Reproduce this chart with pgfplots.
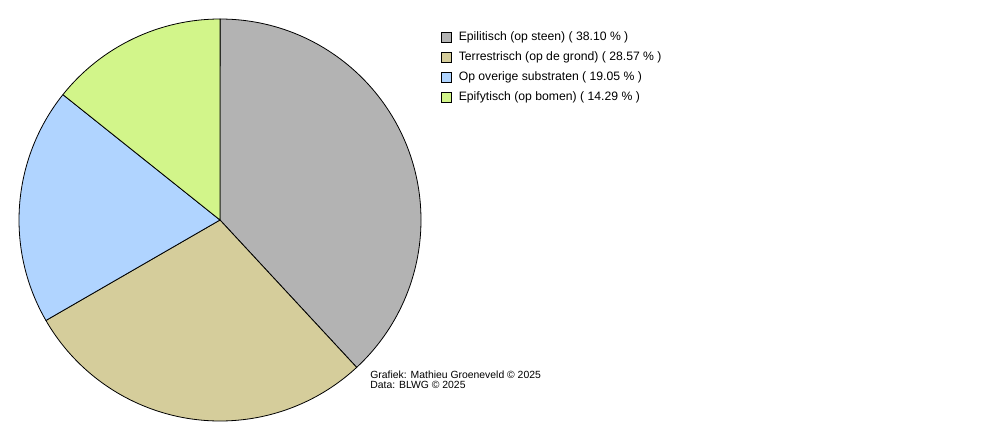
\documentclass[border=0pt]{standalone}
\usepackage{pgfplots}
\usepackage{pgfplotstable}
\pgfplotsset{compat=1.18}
\usepackage{fontspec}
\setmainfont{Liberation Sans}
\definecolor{c0}{RGB}{179,179,179}
\definecolor{c1}{RGB}{213,205,155}
\definecolor{c2}{RGB}{176,212,255}
\definecolor{c3}{RGB}{210,245,138}
\pgfplotstableread{
idx pct
0 38.10
1 28.57
2 19.05
3 14.29
}\piedata
\pgfplotsset{sq legend/.style={legend image code/.code={\draw[##1,line width=0.4pt] (0pt,-2.5pt) rectangle (5pt,2.5pt);}}}
\begin{document}
\begin{tikzpicture}
\begin{axis}[hide axis, scale only axis, width=500pt, height=220pt,
  xmin=0, xmax=1000, ymin=0, ymax=440, clip=false,
  legend style={at={(axis cs:441,409)}, anchor=north west, draw=none, fill=none,
    font=\fontsize{6.1}{7}\selectfont, row sep=4.05pt, inner sep=0pt,
    nodes={inner sep=0pt}, column sep=3.3pt},
  legend cell align=left]
\addlegendimage{sq legend, fill=c0, draw=black}
\addlegendentry{Epilitisch (op steen) ( 38.10 \% )}
\addlegendimage{sq legend, fill=c1, draw=black}
\addlegendentry{Terrestrisch (op de grond) ( 28.57 \% )}
\addlegendimage{sq legend, fill=c2, draw=black}
\addlegendentry{Op overige substraten ( 19.05 \% )}
\addlegendimage{sq legend, fill=c3, draw=black}
\addlegendentry{Epifytisch (op bomen) ( 14.29 \% )}
\pgfplotsextra{
  \path (axis cs:0,0) rectangle (axis cs:1000,440);
  \xdef\curang{90}
  \foreach \i in {0,1,2,3}{
    \pgfplotstablegetelem{\i}{pct}\of\piedata
    \pgfmathsetmacro\endang{\curang-3.6*\pgfplotsretval}
    \fill[c\i, draw=black, line width=0.4pt, line join=round] (axis cs:220,220) -- ++(\curang:100.5pt) arc[start angle=\curang, end angle=\endang, radius=100.5pt] -- cycle;
    \xdef\curang{\endang}
  }
  \node[anchor=base west, inner sep=0pt, font=\fontsize{5.2}{6}\selectfont] at (axis cs:370,61.5) {Grafiek: Mathieu Groeneveld © 2025};
  \node[anchor=base west, inner sep=0pt, font=\fontsize{5.2}{6}\selectfont] at (axis cs:370,52) {Data: BLWG © 2025};
}
\end{axis}
\end{tikzpicture}
\end{document}
